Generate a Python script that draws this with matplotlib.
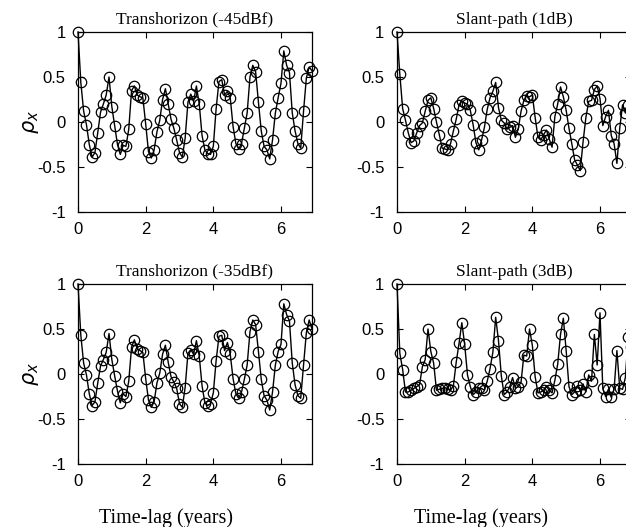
import numpy as np
import matplotlib
matplotlib.use("Agg")
import matplotlib.pyplot as plt

# autocorrelation values, one per monthly lag
th45 = [1.00, 0.44, 0.12, -0.03, -0.25, -0.39, -0.34, -0.12, 0.11, 0.20,
        0.30, 0.50, 0.17, -0.04, -0.25, -0.36, -0.26, -0.27, -0.08, 0.35,
        0.40, 0.30, 0.28, 0.27, -0.02, -0.33, -0.40, -0.31, -0.11, 0.02,
        0.25, 0.37, 0.20, 0.03, -0.07, -0.20, -0.34, -0.39, -0.18, 0.22,
        0.31, 0.23, 0.40, 0.20, -0.15, -0.31, -0.35, -0.36, -0.27, 0.15,
        0.45, 0.47, 0.30, 0.34, 0.27, -0.05, -0.24, -0.30, -0.24, -0.07,
        0.10, 0.50, 0.63, 0.56, 0.22, -0.10, -0.27, -0.31, -0.41, -0.20,
        0.10, 0.27, 0.43, 0.79, 0.63, 0.55, 0.10, -0.10, -0.24, -0.29,
        0.12, 0.49, 0.61, 0.57]

sp1 = [1.00, 0.53, 0.15, 0.02, -0.12, -0.23, -0.21, -0.12, -0.04, -0.01,
       0.12, 0.24, 0.27, 0.15, 0.00, -0.14, -0.29, -0.30, -0.31, -0.24,
       -0.10, 0.03, 0.19, 0.23, 0.21, 0.20, 0.13, -0.03, -0.23, -0.31,
       -0.20, -0.06, 0.14, 0.27, 0.34, 0.44, 0.16, 0.02, -0.01, -0.08,
       -0.06, -0.04, -0.17, -0.08, 0.12, 0.24, 0.29, 0.28, 0.30, 0.05,
       -0.17, -0.20, -0.14, -0.09, -0.19, -0.28, 0.06, 0.20, 0.39, 0.28,
       0.13, -0.07, -0.24, -0.42, -0.48, -0.54, -0.22, 0.05, 0.23, 0.24,
       0.36, 0.40, 0.26, -0.04, 0.06, 0.13, -0.15, -0.24, -0.46, -0.07,
       0.19, 0.10, 0.19, 0.15]

th35 = [1.00, 0.43, 0.12, -0.01, -0.22, -0.35, -0.31, -0.10, 0.09, 0.16,
        0.24, 0.45, 0.16, -0.02, -0.19, -0.32, -0.22, -0.25, -0.08, 0.30,
        0.38, 0.28, 0.26, 0.24, -0.05, -0.29, -0.37, -0.31, -0.10, 0.01,
        0.22, 0.32, 0.13, -0.03, -0.09, -0.16, -0.33, -0.37, -0.15, 0.23,
        0.27, 0.22, 0.37, 0.20, -0.13, -0.32, -0.35, -0.33, -0.21, 0.15,
        0.42, 0.43, 0.26, 0.35, 0.22, -0.05, -0.22, -0.27, -0.20, -0.06,
        0.10, 0.47, 0.60, 0.55, 0.25, -0.06, -0.24, -0.29, -0.40, -0.20,
        0.10, 0.25, 0.33, 0.78, 0.66, 0.59, 0.12, -0.12, -0.24, -0.27,
        0.10, 0.46, 0.60, 0.50]

sp3 = [1.00, 0.23, 0.05, -0.20, -0.20, -0.18, -0.16, -0.14, -0.12, 0.08,
       0.16, 0.50, 0.25, 0.12, -0.18, -0.17, -0.16, -0.15, -0.17, -0.18,
       -0.13, 0.13, 0.34, 0.57, 0.33, -0.01, -0.14, -0.23, -0.20, -0.16,
       -0.16, -0.18, -0.08, 0.06, 0.24, 0.63, 0.37, -0.02, -0.23, -0.20,
       -0.14, -0.04, -0.16, -0.14, -0.09, 0.21, 0.20, 0.50, 0.32, -0.03,
       -0.21, -0.20, -0.18, -0.14, -0.18, -0.21, -0.07, 0.11, 0.44, 0.62,
       0.26, -0.14, -0.23, -0.20, -0.13, -0.18, -0.11, -0.20, -0.01, -0.08,
       0.44, 0.10, 0.68, -0.16, -0.25, -0.17, -0.26, -0.17, 0.26, -0.16,
       -0.17, -0.04, 0.41, 0.30]

titles = ["Transhorizon (-45dBf)", "Slant-path (1dB)",
          "Transhorizon (-35dBf)", "Slant-path (3dB)"]
series = [th45, sp1, th35, sp3]

W, H = 626, 527
fig = plt.figure(figsize=(W / 100, H / 100), dpi=100)

# axes boxes in pixels: left, top
boxes = [(78, 32), (397, 32), (78, 284), (397, 284)]
aw, ah = 234, 180

for k in range(4):
    left, top = boxes[k]
    ax = fig.add_axes([left / W, 1 - (top + ah) / H, aw / W, ah / H])
    vals = np.array(series[k])
    lag = np.arange(len(vals)) / 12.0
    ax.plot(lag, vals, color="black", lw=1.0, marker="o", ms=7.5,
            mfc="none", mec="black", mew=0.9, clip_on=False)
    ax.set_xlim(0, 83 / 12.0)
    ax.set_ylim(-1, 1)
    ax.set_xticks([0, 2, 4, 6])
    ax.set_yticks([-1, -0.5, 0, 0.5, 1])
    ax.set_yticklabels(["-1", "-0.5", "0", "0.5", "1"])
    ax.tick_params(direction="in", top=True, right=True, length=4,
                   labelsize=12)
    ax.tick_params(axis="y", pad=9)
    ax.tick_params(axis="x", pad=7)
    for lab in ax.get_xticklabels() + ax.get_yticklabels():
        lab.set_family("Liberation Sans")
    for s in ax.spines.values():
        s.set_linewidth(0.9)
    ax.set_title(titles[k], fontsize=12.5, family="Liberation Serif", pad=6)
    if k % 2 == 0:
        ax.set_ylabel(r"$\rho_x$", fontsize=15)
        ax.yaxis.set_label_coords(-0.16, 0.5)
    if k >= 2:
        ax.set_xlabel("Time-lag (years)", fontsize=14.5,
                      family="Liberation Serif")
        ax.xaxis.set_label_coords(0.375 if k == 2 else 0.36, -0.245)

fig.savefig("out.png", dpi=100)
